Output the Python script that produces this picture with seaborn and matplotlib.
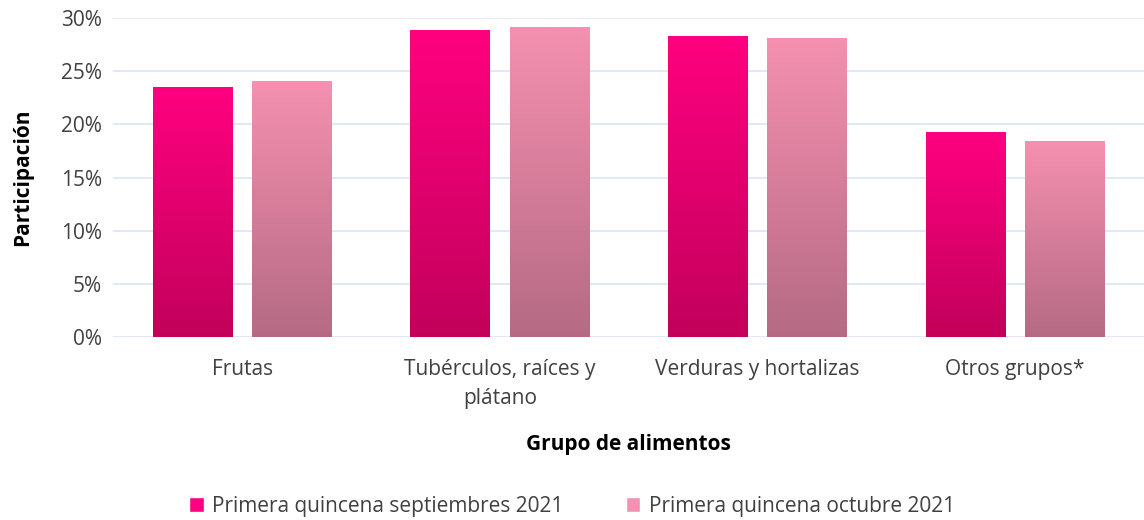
import numpy as np
import pandas as pd
import seaborn as sns
import matplotlib.pyplot as plt
from matplotlib.colors import LinearSegmentedColormap
from matplotlib.patches import Patch
from matplotlib.ticker import PercentFormatter

categories = ["Frutas", "Tubérculos, raíces y\nplátano", "Verduras y hortalizas", "Otros grupos*"]
series = ["Primera quincena septiembres 2021", "Primera quincena octubre 2021"]
sept_values = [23.5, 28.8, 28.3, 19.2]
oct_values = [24.0, 29.1, 28.1, 18.4]

# top / bottom colours of each bar gradient
top_colors = ["#ff0080", "#f590b0"]
bottom_colors = ["#c2005a", "#b56a84"]

df = pd.DataFrame({
    "grupo": categories * 2,
    "serie": [series[0]] * 4 + [series[1]] * 4,
    "valor": sept_values + oct_values,
})

sns.set_theme(style="white")
plt.rcParams['font.family'] = ['Open Sans', 'DejaVu Sans']

fig = plt.figure(figsize=(11.44, 5.2), dpi=100)
ax = fig.add_axes([0.099, 0.352, 0.901, 0.613])

sns.barplot(data=df, x="grupo", y="valor", hue="serie", hue_order=series,
            palette=top_colors, width=0.77, gap=0.2, legend=False, ax=ax,
            edgecolor="none")

# gradient fill over every bar, one container per serie
grad = np.linspace(0, 1, 256).reshape(-1, 1)
for idx, cont in enumerate(ax.containers):
    cmap = LinearSegmentedColormap.from_list("g", [bottom_colors[idx], top_colors[idx]])
    for patch in cont.patches:
        x0, y0 = patch.get_x(), patch.get_y()
        w, h = patch.get_width(), patch.get_height()
        ax.imshow(grad, cmap=cmap, origin="lower", aspect="auto",
                  extent=(x0, x0 + w, y0, y0 + h), zorder=3)

ax.set_xlim(-0.5, 3.5)
ax.set_ylim(0, 30)
ax.set_yticks(np.arange(0, 31, 5))
ax.yaxis.set_major_formatter(PercentFormatter(decimals=0))
ax.grid(axis="y", color="#dce6f2", linewidth=1.2, zorder=0)
ax.set_axisbelow(True)
for s in ax.spines.values():
    s.set_visible(False)

ax.tick_params(axis="both", length=0, labelsize=15, labelcolor="#404040")
ax.tick_params(axis="x", pad=16)
ax.tick_params(axis="y", pad=8)
for lbl in ax.get_xticklabels():
    lbl.set_linespacing(1.5)

ax.set_ylabel("Participación", fontsize=15, fontweight="bold", color="black", labelpad=20)
ax.set_xlabel("Grupo de alimentos", fontsize=15, fontweight="bold", color="black", labelpad=18)

handles = [Patch(facecolor=top_colors[0]), Patch(facecolor=top_colors[1])]
fig.legend(handles, series, loc="lower center", bbox_to_anchor=(0.5, -0.03), ncol=2,
           frameon=False, fontsize=15, handlelength=0.7, handleheight=0.7,
           handletextpad=0.4, columnspacing=3.0, labelcolor="#404040")

fig.savefig("out.png", dpi=100)
